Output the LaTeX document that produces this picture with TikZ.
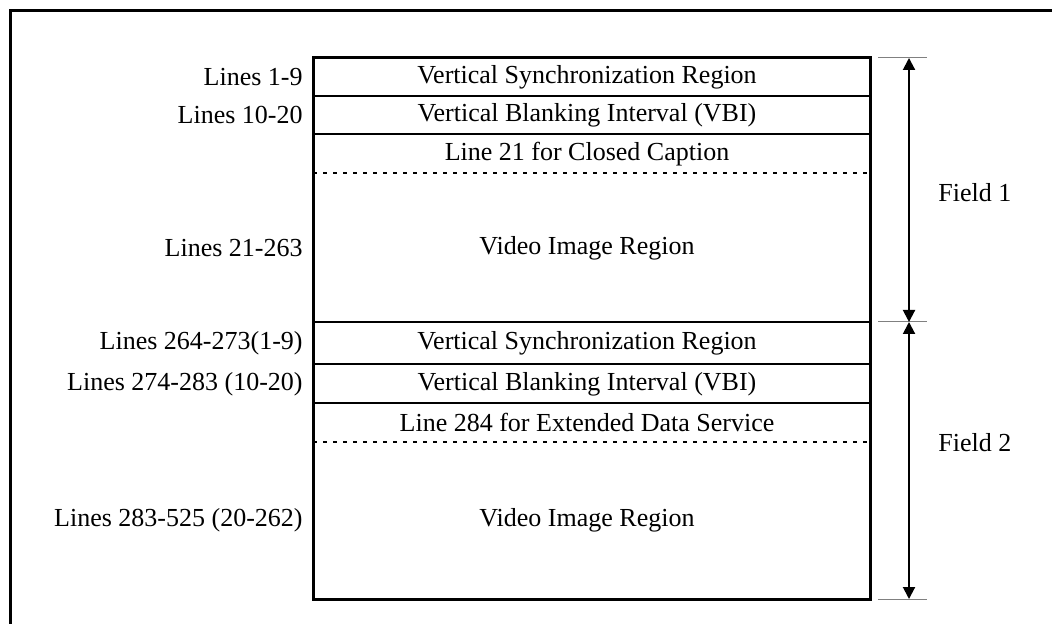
\documentclass[tikz,border=0pt]{standalone}
\usepackage{fontspec}
\setmainfont{Liberation Serif}
\usetikzlibrary{arrows.meta}
\begin{document}
\begin{tikzpicture}[x=0.5pt, y=-0.5pt, >={Triangle[width=6pt,length=6pt]},
    every node/.style={font=\fontsize{13}{15}\selectfont, inner sep=0pt},
    lbl/.style={anchor=east},
    rowline/.style={line width=1pt},
    tick/.style={gray, line width=0.5pt}]
    \useasboundingbox (0,0) rectangle (1052,624);
    \draw[line width=1.5pt](10,650)--(10,11)--(1080,11);
    % the two fields
    \draw[line width=1.5pt](313,58) rectangle (870,599);
    \draw[rowline](313,96)--(870,96);
    \draw[rowline](313,134)--(870,134);
    \draw[rowline, dash pattern=on 2.2pt off 2.8pt](313,173)--(870,173);
    \draw[rowline](313,322)--(870,322);
    \draw[rowline](313,364)--(870,364);
    \draw[rowline](313,403)--(870,403);
    \draw[rowline, dash pattern=on 2.2pt off 2.8pt](313,442)--(870,442);
    \node (sync1) at (587,77) {Vertical Synchronization Region};
    \node (vbi1) at (587,115) {Vertical Blanking Interval (VBI)};
    \node (cc) at (587,154) {Line 21 for Closed Caption};
    \node (img1) at (587,248) {Video Image Region};
    \node (sync2) at (587,343) {Vertical Synchronization Region};
    \node (vbi2) at (587,384) {Vertical Blanking Interval (VBI)};
    \node (eds) at (587,422) {Line 284 for Extended Data Service};
    \node (img2) at (587,520) {Video Image Region};
    % line numbers
    \node[lbl] at (303,77) {Lines 1-9};
    \node[lbl] at (303,115) {Lines 10-20};
    \node[lbl] at (303,248) {Lines 21-263};
    \node[lbl] at (303,343) {Lines 264-273(1-9)};
    \node[lbl] at (303,384) {Lines 274-283 (10-20)};
    \node[lbl] at (303,520) {Lines 283-525 (20-262)};
    % field marks
    \draw[tick](878,58)--(927,58);
    \draw[tick](878,322)--(927,322);
    \draw[tick](878,599)--(927,599);
    \coordinate (f1t) at (909,58);
    \coordinate (f1b) at (909,322);
    \coordinate (f2b) at (909,599);
    \draw[<->, line width=1pt](f1t)--(f1b);
    \draw[<->, line width=1pt](f1b)--(f2b);
    \node[anchor=west] (field1) at (938,193) {Field 1};
    \node[anchor=west] (field2) at (938,443) {Field 2};
\end{tikzpicture}
\end{document}
